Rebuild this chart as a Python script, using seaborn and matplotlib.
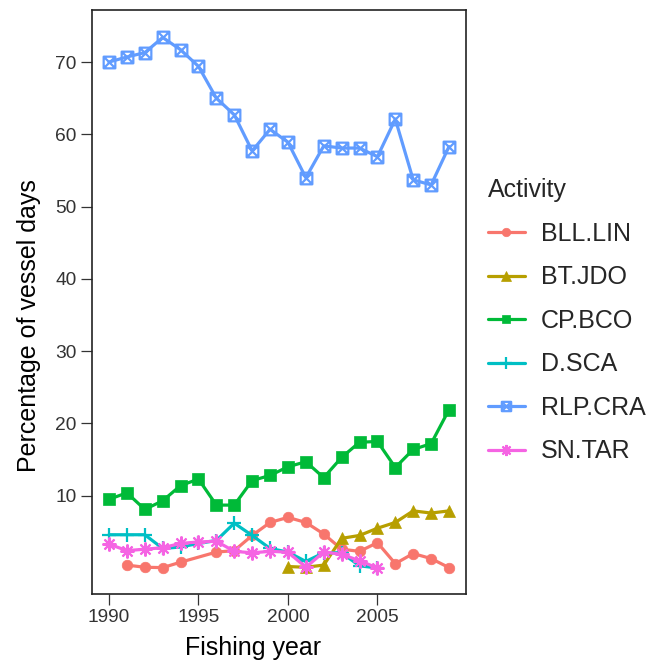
import numpy as np
import pandas as pd
import matplotlib
matplotlib.use("Agg")
import matplotlib.pyplot as plt
from matplotlib.path import Path
from matplotlib.markers import MarkerStyle
import seaborn as sns

nan = np.nan

# Fishing years and share of vessel days (%) by activity
years = list(range(1990, 2010))
bll_lin = [nan, 0.4, 0.1, 0.05, 0.8, nan, 2.2, 2.4, 4.5, 6.3,
           7.0, 6.3, 4.7, 2.6, 2.3, 3.5, 0.6, 2.0, 1.3, 0.05]
bt_jdo = [nan, nan, nan, nan, nan, nan, nan, nan, nan, nan,
          0.2, 0.1, 0.4, 4.1, 4.5, 5.5, 6.3, 7.9, 7.6, 7.9]
cp_bco = [9.5, 10.4, 8.1, 9.3, 11.4, 12.3, 8.7, 8.7, 12.1, 12.8,
          14.0, 14.7, 12.5, 15.3, 17.4, 17.5, 13.9, 16.4, 17.2, 21.9]
d_sca = [4.6, 4.6, 4.6, 2.7, 2.9, 3.4, 3.8, 6.2, 4.5, 2.7,
         2.2, 0.9, 2.1, 2.1, 0.3, 0.0, nan, nan, nan, nan]
rlp_cra = [70.0, 70.7, 71.3, 73.4, 71.7, 69.4, 65.0, 62.7, 57.7, 60.7,
           58.9, 54.0, 58.4, 58.1, 58.1, 56.9, 62.1, 53.7, 53.0, 58.3]
sn_tar = [3.3, 2.4, 2.6, 2.8, 3.4, 3.6, 3.7, 2.3, 2.1, 2.3,
          2.2, 0.1, 2.2, 1.9, 1.0, 0.0, nan, nan, nan, nan]

activities = ["BLL.LIN", "BT.JDO", "CP.BCO", "D.SCA", "RLP.CRA", "SN.TAR"]
series = [bll_lin, bt_jdo, cp_bco, d_sca, rlp_cra, sn_tar]
colors = ["#F8766D", "#B79F00", "#00BA38", "#00BFC4", "#619CFF", "#F564E3"]

# square with a cross inside
sq_cross = Path(
    [(-1, -1), (1, -1), (1, 1), (-1, 1), (-1, -1),
     (-1, -1), (1, 1), (-1, 1), (1, -1)],
    [Path.MOVETO, Path.LINETO, Path.LINETO, Path.LINETO, Path.CLOSEPOLY,
     Path.MOVETO, Path.LINETO, Path.MOVETO, Path.LINETO])

# (marker, size, edge width, filled)
marker_specs = {
    "BLL.LIN": ("o", 7.6, 0.5, True),
    "BT.JDO": ("^", 9.0, 0.5, True),
    "CP.BCO": ("s", 8.0, 0.5, True),
    "D.SCA": ("+", 10.0, 1.6, False),
    "RLP.CRA": (MarkerStyle(sq_cross, fillstyle="none"), 8.4, 1.6, False),
    "SN.TAR": ((8, 2, 0), 10.0, 1.5, False),
}

frames = []
for name, vals in zip(activities, series):
    frames.append(pd.DataFrame({"year": years, "pct": vals, "activity": name}))
df = pd.concat(frames, ignore_index=True).dropna()

sns.set_theme(style="white")
plt.rcParams["font.family"] = ["Liberation Sans", "DejaVu Sans"]

fig = plt.figure(figsize=(6.53, 6.64), dpi=100)
ax = fig.add_axes([92 / 653, 1 - 594 / 664, 374 / 653, 584 / 664])

for name, col in zip(activities, colors):
    mk, ms, mew, filled = marker_specs[name]
    sub = df[df["activity"] == name]
    kw = dict(marker=mk, markersize=ms, markeredgewidth=mew,
              markeredgecolor=col)
    if filled:
        kw["markerfacecolor"] = col
    sns.lineplot(data=sub, x="year", y="pct", color=col, linewidth=2.3,
                 label=name, ax=ax, **kw)

ax.set_xlim(1989.05, 2009.95)
ax.set_ylim(-3.6, 77.2)
ax.set_xticks([1990, 1995, 2000, 2005])
ax.set_yticks([10, 20, 30, 40, 50, 60, 70])
ax.tick_params(axis="both", which="major", direction="out", length=8,
               width=0.9, color="#333333", labelsize=13.8,
               labelcolor="#333333", pad=3, bottom=True, left=True)
for sp in ax.spines.values():
    sp.set_color("#222222")
    sp.set_linewidth(1.2)
ax.grid(False)

ax.set_xlabel("Fishing year", fontsize=18, color="black")
ax.set_ylabel("Percentage of vessel days", fontsize=18, color="black")
ax.xaxis.set_label_coords(0.43, -0.072)
ax.yaxis.set_label_coords(-0.137, 0.46)

handles, labels = ax.get_legend_handles_labels()
leg = ax.legend(handles, labels, title="Activity", loc="upper left",
                bbox_to_anchor=(482 / 653, 1 - 172 / 664),
                bbox_transform=fig.transFigure, frameon=False,
                fontsize=18, title_fontsize=18, handlelength=1.45,
                handletextpad=0.65, labelspacing=0.78, borderpad=0.25,
                borderaxespad=0, alignment="left", markerscale=0.8)

fig.savefig("out.png", dpi=100)
